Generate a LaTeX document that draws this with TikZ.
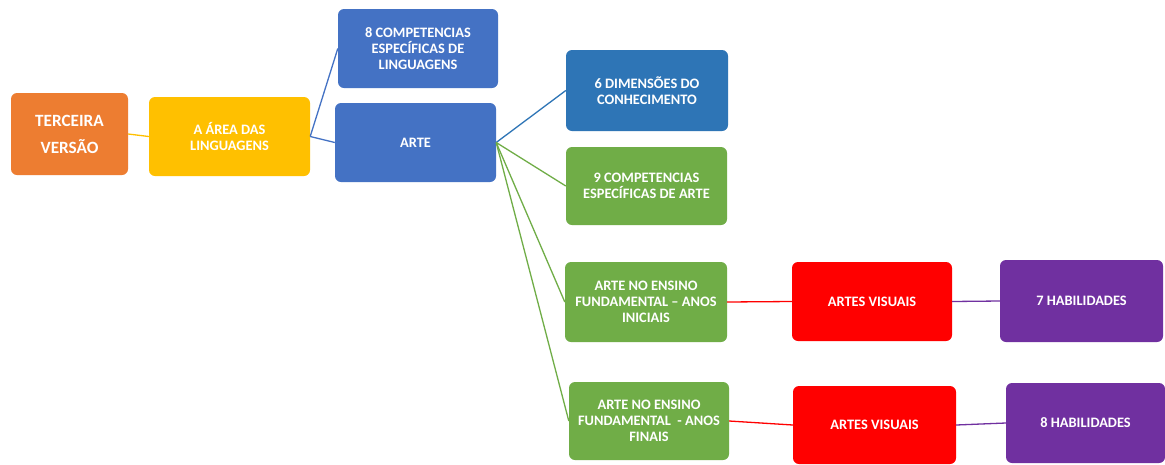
\documentclass[tikz,border=0pt]{standalone}
\usepackage{fontspec}
\setmainfont{Carlito}
\definecolor{corange}{HTML}{ED7D31}
\definecolor{cyellow}{HTML}{FFC000}
\definecolor{cblue}{HTML}{4472C4}
\definecolor{cdblue}{HTML}{2E75B6}
\definecolor{cgreen}{HTML}{70AD47}
\definecolor{cred}{HTML}{FF0000}
\definecolor{cpurple}{HTML}{7030A0}
\begin{document}
\begin{tikzpicture}[x=1pt,y=-1pt,
  box/.style={rectangle, rounded corners=6pt, draw=none, text=white, align=center, inner sep=2pt,
    font=\fontsize{14.4}{15.7}\selectfont\bfseries},
  bigbox/.style={box, font=\fontsize{17.2}{27}\selectfont\bfseries},
  conn/.style={line width=1.3pt}
]
\useasboundingbox (0,0) rectangle (1165,464);
\fill[white] (0,0) rectangle (1165,464);
\node[bigbox, fill=corange, minimum width=117pt, minimum height=82pt] (t) at (69.5,134) {TERCEIRA\\VERSÃO};
\node[box, fill=cyellow, minimum width=161pt, minimum height=79pt] (a) at (229.5,136.5) {A ÁREA DAS\\LINGUAGENS};
\node[box, fill=cblue, minimum width=160pt, minimum height=79pt] (c8) at (418,48.5) {8 COMPETENCIAS\\ESPECÍFICAS DE\\LINGUAGENS};
\node[box, fill=cblue, minimum width=161pt, minimum height=79pt] (arte) at (415.5,142.5) {ARTE};
\node[box, fill=cdblue, minimum width=162pt, minimum height=81pt] (d6) at (647,90.5) {6 DIMENSÕES DO\\CONHECIMENTO};
\node[box, fill=cgreen, minimum width=161pt, minimum height=78pt] (c9) at (646.5,186) {9 COMPETENCIAS\\ESPECÍFICAS DE ARTE};
\node[box, fill=cgreen, minimum width=162pt, minimum height=80pt] (ini) at (646,302) {ARTE NO ENSINO\\FUNDAMENTAL – ANOS\\INICIAIS};
\node[box, fill=cgreen, minimum width=160pt, minimum height=78pt] (fin) at (649,421) {ARTE NO ENSINO\\FUNDAMENTAL \ - ANOS\\FINAIS};
\node[box, fill=cred, minimum width=160pt, minimum height=79pt] (av1) at (872,301.5) {ARTES VISUAIS};
\node[box, fill=cred, minimum width=163pt, minimum height=78pt] (av2) at (874.5,425) {ARTES VISUAIS};
\node[box, fill=cpurple, minimum width=163pt, minimum height=82pt] (h7) at (1081.5,301) {7 HABILIDADES};
\node[box, fill=cpurple, minimum width=159pt, minimum height=80pt] (h8) at (1085.5,423) {8 HABILIDADES};

\draw[conn, cyellow] (t.east) -- (a.west);
\draw[conn, cblue] (a.east) -- (c8.west);
\draw[conn, cblue] (a.east) -- (arte.west);
\draw[conn, cdblue] (arte.east) -- (d6.west);
\draw[conn, cgreen] (arte.east) -- (c9.west);
\draw[conn, cgreen] (arte.east) -- (ini.west);
\draw[conn, cgreen] (arte.east) -- (fin.west);
\draw[conn, cred] (ini.east) -- (av1.west);
\draw[conn, cred] (fin.east) -- (av2.west);
\draw[conn, cpurple] (av1.east) -- (h7.west);
\draw[conn, cpurple] (av2.east) -- (h8.west);
\end{tikzpicture}
\end{document}
